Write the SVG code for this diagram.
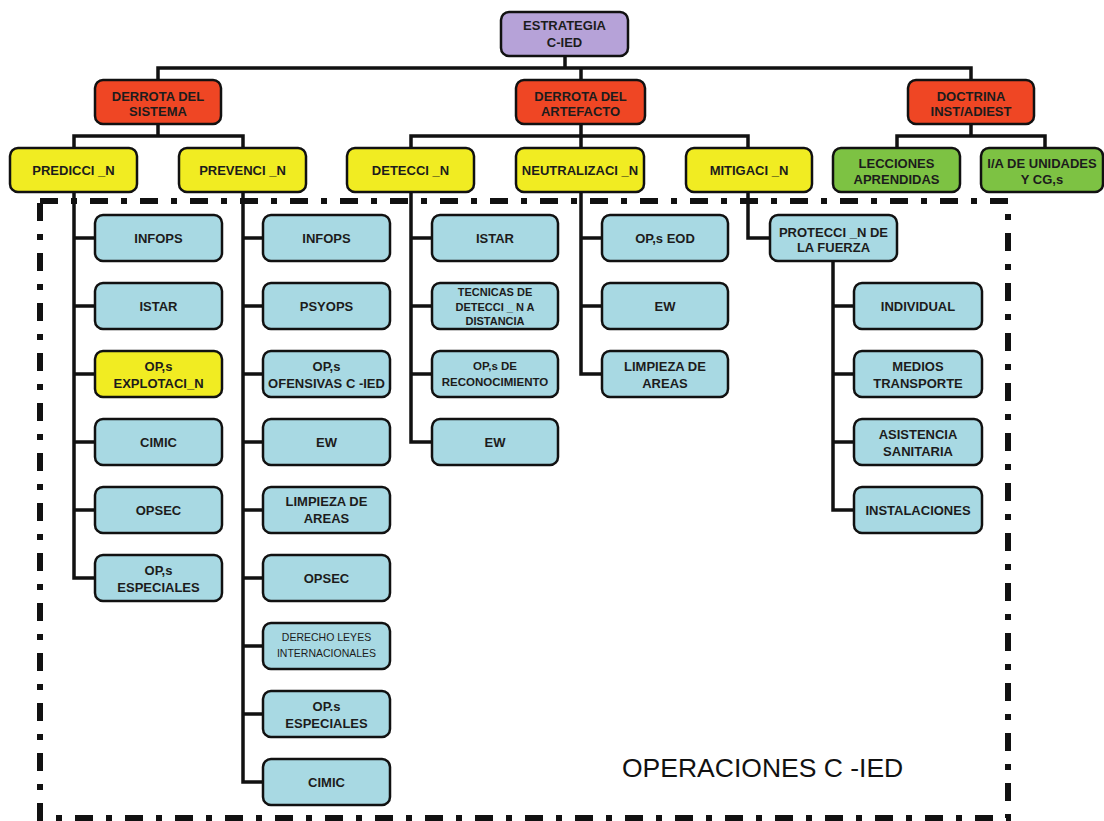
<svg xmlns="http://www.w3.org/2000/svg" width="1104" height="821" viewBox="0 0 1104 821">
<style>
.bx{stroke:#111;stroke-width:2.5}
.pu{fill:#B6A2D8}.rd{fill:#EF4624}.ye{fill:#F1EC22}.gr{fill:#7DC243}.bl{fill:#A8D9E3}
.t{font-family:"Liberation Sans",Arial,sans-serif;font-weight:bold;font-size:13px;fill:#1c1c1c;text-anchor:middle}
.s11{font-size:11px}
.s115{font-size:11.5px}
.rg{font-weight:normal;font-size:10.5px}
.c{stroke:#111;stroke-width:3.5;fill:none;stroke-linecap:square}
.border{stroke:#111;stroke-width:6;stroke-dasharray:18 13 6 13;fill:none}
.big{font-family:"Liberation Sans",Arial,sans-serif;font-size:26.5px;fill:#111}
</style>
<rect width="1104" height="821" fill="#fff"/>
<path class="border" d="M40,201 H1008 V818 H40 Z"/>
<g id="connectors">
<path class="c" d="M565,56 V68 M158,68 H971 M158,68 V80 M581,68 V80 M971,68 V80"/>
<path class="c" d="M158,124 V136 M74,136 H243 M74,136 V148 M243,136 V148"/>
<path class="c" d="M581,124 V136 M411,136 H748 M411,136 V148 M581,136 V148 M748,136 V148"/>
<path class="c" d="M971,124 V136 M897,136 H1045 M897,136 V148 M1045,136 V148"/>
<path class="c" d="M74,192 V578 M74,238 H95 M74,306 H95 M74,374 H95 M74,442 H95 M74,510 H95 M74,578 H95"/>
<path class="c" d="M243,192 V782 M243,238 H263 M243,306 H263 M243,374 H263 M243,442 H263 M243,510 H263 M243,578 H263 M243,646 H263 M243,714 H263 M243,782 H263"/>
<path class="c" d="M411,192 V442 M411,238 H432 M411,306 H432 M411,374 H432 M411,442 H432"/>
<path class="c" d="M581,192 V374 M581,238 H602 M581,306 H602 M581,374 H602"/>
<path class="c" d="M748,192 V238 H770"/>
<path class="c" d="M833,261 V510 M833,306 H854 M833,374 H854 M833,442 H854 M833,510 H854"/>
</g>
<g id="estrategia"><rect class="bx pu" x="501" y="12" width="127" height="44" rx="8"/><text class="t" x="564.5" y="30">ESTRATEGIA</text><text class="t" x="564.5" y="47">C-IED</text></g>
<g id="derrota-sistema"><rect class="bx rd" x="95" y="80" width="126" height="44" rx="8"/><text class="t" x="158" y="100.5">DERROTA DEL</text><text class="t" x="158" y="116">SISTEMA</text></g>
<g id="derrota-artefacto"><rect class="bx rd" x="516" y="80" width="129" height="44" rx="8"/><text class="t" x="580.5" y="100.5">DERROTA DEL</text><text class="t" x="580.5" y="116">ARTEFACTO</text></g>
<g id="doctrina"><rect class="bx rd" x="908" y="80" width="126" height="44" rx="8"/><text class="t" x="971" y="100.5">DOCTRINA</text><text class="t" x="971" y="116">INST/ADIEST</text></g>
<g id="prediccion"><rect class="bx ye" x="10" y="148" width="127" height="44" rx="8"/><text class="t" x="73.5" y="174.5">PREDICCI _N</text></g>
<g id="prevencion"><rect class="bx ye" x="179" y="148" width="127" height="44" rx="8"/><text class="t" x="242.5" y="174.5">PREVENCI _N</text></g>
<g id="deteccion"><rect class="bx ye" x="347" y="148" width="127" height="44" rx="8"/><text class="t" x="410.5" y="174.5">DETECCI _N</text></g>
<g id="neutralizacion"><rect class="bx ye" x="516" y="148" width="128" height="44" rx="8"/><text class="t" x="580" y="174.5">NEUTRALIZACI _N</text></g>
<g id="mitigacion"><rect class="bx ye" x="686" y="148" width="126" height="44" rx="8"/><text class="t" x="749" y="174.5">MITIGACI _N</text></g>
<g id="lecciones"><rect class="bx gr" x="833" y="148" width="127" height="44" rx="8"/><text class="t" x="896.5" y="167.5">LECCIONES</text><text class="t" x="896.5" y="183.5">APRENDIDAS</text></g>
<g id="ia-unidades"><rect class="bx gr" x="981" y="148" width="122" height="44" rx="8"/><text class="t" x="1042" y="167.5">I/A DE UNIDADES</text><text class="t" x="1042" y="183.5">Y CG,s</text></g>
<g id="p-infops"><rect class="bx bl" x="95" y="215" width="127" height="46" rx="8"/><text class="t" x="158.5" y="242.5">INFOPS</text></g>
<g id="p-istar"><rect class="bx bl" x="95" y="283" width="127" height="46" rx="8"/><text class="t" x="158.5" y="310.5">ISTAR</text></g>
<g id="p-explotacion"><rect class="bx ye" x="95" y="351" width="127" height="46" rx="8"/><text class="t" x="158.5" y="370.5">OP,s</text><text class="t" x="158.5" y="387.5">EXPLOTACI_N</text></g>
<g id="p-cimic"><rect class="bx bl" x="95" y="419" width="127" height="46" rx="8"/><text class="t" x="158.5" y="446.5">CIMIC</text></g>
<g id="p-opsec"><rect class="bx bl" x="95" y="487" width="127" height="46" rx="8"/><text class="t" x="158.5" y="514.5">OPSEC</text></g>
<g id="p-especiales"><rect class="bx bl" x="95" y="555" width="127" height="46" rx="8"/><text class="t" x="158.5" y="574.5">OP,s</text><text class="t" x="158.5" y="591.5">ESPECIALES</text></g>
<g id="v-infops"><rect class="bx bl" x="263" y="215" width="127" height="46" rx="8"/><text class="t" x="326.5" y="242.5">INFOPS</text></g>
<g id="v-psyops"><rect class="bx bl" x="263" y="283" width="127" height="46" rx="8"/><text class="t" x="326.5" y="310.5">PSYOPS</text></g>
<g id="v-ofensivas"><rect class="bx bl" x="263" y="351" width="127" height="46" rx="8"/><text class="t" x="326.5" y="370.5">OP,s</text><text class="t" x="326.5" y="387.5">OFENSIVAS C -IED</text></g>
<g id="v-ew"><rect class="bx bl" x="263" y="419" width="127" height="46" rx="8"/><text class="t" x="326.5" y="446.5">EW</text></g>
<g id="v-limpieza"><rect class="bx bl" x="263" y="487" width="127" height="46" rx="8"/><text class="t" x="326.5" y="506">LIMPIEZA DE</text><text class="t" x="326.5" y="522.5">AREAS</text></g>
<g id="v-opsec"><rect class="bx bl" x="263" y="555" width="127" height="46" rx="8"/><text class="t" x="326.5" y="582.5">OPSEC</text></g>
<g id="v-derecho"><rect class="bx bl" x="263" y="623" width="127" height="46" rx="8"/><text class="t rg" x="326.5" y="641">DERECHO LEYES</text><text class="t rg" x="326.5" y="657">INTERNACIONALES</text></g>
<g id="v-especiales"><rect class="bx bl" x="263" y="691" width="127" height="46" rx="8"/><text class="t" x="326.5" y="710.5">OP.s</text><text class="t" x="326.5" y="727.5">ESPECIALES</text></g>
<g id="v-cimic"><rect class="bx bl" x="263" y="759" width="127" height="46" rx="8"/><text class="t" x="326.5" y="786.5">CIMIC</text></g>
<g id="d-istar"><rect class="bx bl" x="432" y="215" width="126" height="46" rx="8"/><text class="t" x="495" y="242.5">ISTAR</text></g>
<g id="d-tecnicas"><rect class="bx bl" x="432" y="283" width="126" height="46" rx="8"/><text class="t s11" x="495" y="296">TECNICAS DE</text><text class="t s11" x="495" y="311">DETECCI _ N A</text><text class="t s11" x="495" y="325">DISTANCIA</text></g>
<g id="d-reconocimiento"><rect class="bx bl" x="432" y="351" width="126" height="46" rx="8"/><text class="t s115" x="495" y="370">OP,s DE</text><text class="t s115" x="495" y="386">RECONOCIMIENTO</text></g>
<g id="d-ew"><rect class="bx bl" x="432" y="419" width="126" height="46" rx="8"/><text class="t" x="495" y="446.5">EW</text></g>
<g id="n-eod"><rect class="bx bl" x="602" y="215" width="126" height="46" rx="8"/><text class="t" x="665" y="242.5">OP,s EOD</text></g>
<g id="n-ew"><rect class="bx bl" x="602" y="283" width="126" height="46" rx="8"/><text class="t" x="665" y="310.5">EW</text></g>
<g id="n-limpieza"><rect class="bx bl" x="602" y="351" width="126" height="46" rx="8"/><text class="t" x="665" y="370.5">LIMPIEZA DE</text><text class="t" x="665" y="387.5">AREAS</text></g>
<g id="proteccion"><rect class="bx bl" x="770" y="215" width="127" height="46" rx="8"/><text class="t" x="833.5" y="236.5">PROTECCI _N DE</text><text class="t" x="833.5" y="252">LA FUERZA</text></g>
<g id="m-individual"><rect class="bx bl" x="854" y="283" width="128" height="46" rx="8"/><text class="t" x="918" y="310.5">INDIVIDUAL</text></g>
<g id="m-medios"><rect class="bx bl" x="854" y="351" width="128" height="46" rx="8"/><text class="t" x="918" y="370.5">MEDIOS</text><text class="t" x="918" y="387.5">TRANSPORTE</text></g>
<g id="m-asistencia"><rect class="bx bl" x="854" y="419" width="128" height="46" rx="8"/><text class="t" x="918" y="438.5">ASISTENCIA</text><text class="t" x="918" y="455.5">SANITARIA</text></g>
<g id="m-instalaciones"><rect class="bx bl" x="854" y="487" width="128" height="46" rx="8"/><text class="t" x="918" y="514.5">INSTALACIONES</text></g>
<text class="big" x="622" y="777">OPERACIONES C -IED</text>
</svg>
